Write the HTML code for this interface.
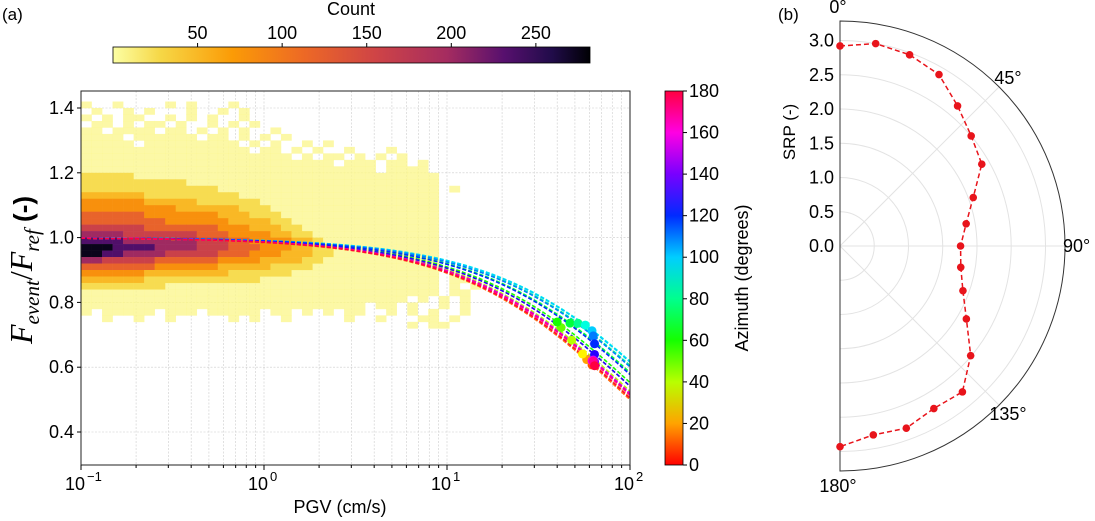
<!DOCTYPE html>
<html><head><meta charset="utf-8">
<style>
html,body{margin:0;padding:0;background:#fff;}
svg{display:block;font-family:"Liberation Sans","DejaVu Sans",sans-serif;}
</style></head>
<body>
<svg id="fig" width="1095" height="521" viewBox="0 0 1095 521" xmlns="http://www.w3.org/2000/svg">
<defs>
<linearGradient id="countGrad" x1="0" x2="1" y1="0" y2="0">
<stop offset="0" stop-color="#fcffa4"/><stop offset="0.1" stop-color="#f6d746"/>
<stop offset="0.25" stop-color="#fb9b06"/><stop offset="0.4" stop-color="#ed6925"/>
<stop offset="0.55" stop-color="#cf4446"/><stop offset="0.7" stop-color="#a52c60"/>
<stop offset="0.82" stop-color="#57106e"/><stop offset="0.92" stop-color="#210c4a"/>
<stop offset="1" stop-color="#000004"/>
</linearGradient>
<linearGradient id="azGrad" x1="0" x2="0" y1="1" y2="0"></linearGradient>
<clipPath id="plotClip"><rect x="81" y="91" width="549" height="374"/></clipPath>
</defs>
<g id="main"></g>
<g id="polar"></g>
</svg>
<script>
// ---- data: 2D histogram (rows top->bottom, y from 1.42 down in 0.02 steps; cols log10 PGV from -1 in 0.0575 steps)
const histRows = [
"1..1....1.1...1",
".1..1.1...1..1.1",
"1.1.11..1.1.1..1",
".11.1.11.1..1.1.1",
"11.1111.11.1.1.1..1",
"1111.111111.11.1.1.1",
"11111.111111111.1.1..1.1",
"1111111111111111.11.1.1..1...1",
"11111111111111111111.1.11.1.1.1",
"111111111111111111111111.111.11.1",
"1111111111111111111111111111.1111",
"2222211111111111111111111111111111",
"2222222222111111111111111111111111",
"2222222222222111111111111111111111.1",
"3333332222222221111111111111111111",
"4444443333322222211111111111111111",
"4444444443333332221111111111111111",
"5555554444444333222111111111111111",
"5555555544444433332211111111111111",
"6666665555555444333221111111111111",
"7777666666655544443322111111111111",
"8888777777766655444433211111111111",
"9998888777766655544433221111111111",
"9988777766666555444333221111111111",
"7766666555555444433332211111111111",
"5555555444444333332222111111111111",
"4444443333333322222211111111111111.1",
"3333332222222222211111111111111111.11",
"2222222211111111111111111111111111.1.1",
"1111111111111111111111111111111111.11",
"1111111111111111111111111111111.1.1.1",
"111111111111111111111111111.11.1..1.1",
"1.11111.111.11111.11.1.1.11..1.1.1..1",
"..1..1..1.....1.1..1.....1..1...11.1",
"...............................1.11"
];
const levelCounts = [0,6,25,50,80,120,160,200,235,275];
// ---- data: azimuth-dependent fits / SRP
const azimuths = [0,10,20,30,40,50,60,70,80,90,100,110,120,130,140,150,160,170,180];
const srpValues = [2.92,3.0,2.97,2.89,2.67,2.5,2.39,2.07,1.87,1.76,1.79,1.91,2.13,2.49,2.78,2.74,2.83,2.8,2.93];
const fitX0 = [103,100,101,104,112,120,126,145,160,170,168,157,141,120,108,109,106,107,102];
const eventPGV = [64,62,58,55,48,42,40,47,52,57,62,63,64,64,64,63,62,63,64];
const yTicks = [0.4,0.6,0.8,1.0,1.2,1.4];
const xTickExps = [-1,0,1,2];
const countTicks = [50,100,150,200,250];
const azTicks = [0,20,40,60,80,100,120,140,160,180];
const rTicks = [0.0,0.5,1.0,1.5,2.0,2.5,3.0];
const angleTicks = [0,45,90,135,180];

const NS="http://www.w3.org/2000/svg";
function mk(tag,attrs,parent,text){const e=document.createElementNS(NS,tag);for(const k in attrs)e.setAttribute(k,attrs[k]);if(text!==undefined)e.textContent=text;parent.appendChild(e);return e;}
const X0=81,X1=630,Y0=91,Y1=465;
const xs=v=>X0+(Math.log10(v)+1)/3*(X1-X0);
const ys=v=>237.6-(v-1.0)*324;
const cbX=v=>113+v/282*477;
const azY=v=>465-v/180*374;
const azColor=a=>`hsl(${a*345/180},100%,50%)`;
const inferno=[[0,[252,255,164]],[0.1,[246,215,70]],[0.25,[251,155,6]],[0.4,[237,105,37]],[0.55,[207,68,70]],[0.7,[165,44,96]],[0.82,[87,16,110]],[0.92,[33,12,74]],[1,[0,0,4]]];
function cmap(t){for(let i=1;i<inferno.length;i++){if(t<=inferno[i][0]){const a=inferno[i-1],b=inferno[i];const f=(t-a[0])/(b[0]-a[0]);const c=a[1].map((v,k)=>Math.round(v+(b[1][k]-v)*f));return `rgb(${c})`;}}return 'rgb(0,0,4)';}

const main=document.getElementById('main');
let t=mk('text',{x:2,y:20,'font-size':17},main,'(a)');

t=mk('text',{x:778,y:20,'font-size':17},main,'(b)');

const cb=mk('g',{},main);

mk('rect',{x:113,y:47,width:477,height:16,fill:'url(#countGrad)',stroke:'#000','stroke-width':0.8},cb);
t=mk('text',{x:351,y:15,'font-size':18,'text-anchor':'middle'},cb,'Count');

countTicks.forEach(v=>{mk('line',{x1:cbX(v),x2:cbX(v),y1:43,y2:47,stroke:'#000'},cb);
 const l=mk('text',{x:cbX(v),y:39,'font-size':18,'text-anchor':'middle'},cb,String(v));
 });
const grid=mk('g',{stroke:'#ccc','stroke-width':0.6,'stroke-dasharray':'2,1.5'},main);

for(let e=-1;e<2;e++)for(let m=1;m<10;m++){const x=xs(m*Math.pow(10,e));mk('line',{x1:x,x2:x,y1:Y0,y2:Y1},grid);}
yTicks.forEach(v=>mk('line',{x1:X0,x2:X1,y1:ys(v),y2:ys(v)},grid));
const hist=mk('g',{'clip-path':'url(#plotClip)'},main);

histRows.forEach((row,r)=>{const yt=1.42-0.02*r;for(let c=0;c<row.length;c++){const ch=row[c];if(ch==='.')continue;
 const cnt=levelCounts[+ch];const lx0=-1+0.0575*c;const xa=xs(Math.pow(10,lx0)),xb=xs(Math.pow(10,lx0+0.0575));
 const cell=mk('rect',{x:xa,y:ys(yt),width:xb-xa+0.3,height:ys(yt-0.02)-ys(yt)+0.3,fill:cmap(cnt/282),'fill-opacity':cnt<10?0.8:1},hist);
 }});
const curves=mk('g',{'clip-path':'url(#plotClip)'},main);

const fitF=(x,x0)=>1/(1+Math.pow(x/x0,0.91));
azimuths.forEach((a,i)=>{let d='';for(let k=0;k<=120;k++){const x=Math.pow(10,-1+3*k/120);d+=(k?'L':'M')+xs(x).toFixed(1)+','+ys(fitF(x,fitX0[i])).toFixed(1);}
 const p=mk('path',{d:d,fill:'none',stroke:azColor(a),'stroke-width':1.6,'stroke-dasharray':'4,2'},curves);
 });
azimuths.forEach((a,i)=>{const c=mk('circle',{cx:xs(eventPGV[i]),cy:ys(fitF(eventPGV[i],fitX0[i])),r:4.5,fill:azColor(a)},curves);
 });
mk('rect',{x:X0,y:Y0,width:X1-X0,height:Y1-Y0,fill:'none',stroke:'#222','stroke-width':1},main);
yTicks.forEach(v=>{mk('line',{x1:X0-4,x2:X0,y1:ys(v),y2:ys(v),stroke:'#000'},main);
 const l=mk('text',{x:X0-7,y:ys(v)+6,'font-size':18,'text-anchor':'end'},main,v.toFixed(1));
 });
xTickExps.forEach(e=>{const x=xs(Math.pow(10,e));mk('line',{x1:x,x2:x,y1:Y1,y2:Y1+5,stroke:'#000'},main);
 const l=mk('text',{x:x-6,y:490,'font-size':18,'text-anchor':'middle'},main,'10');
 
 mk('text',{x:x+6,y:481,'font-size':13,'text-anchor':'start'},main,e<0?'\u2212'+(-e):String(e));});
for(let e=-1;e<2;e++)for(let m=2;m<10;m++){const x=xs(m*Math.pow(10,e));mk('line',{x1:x,x2:x,y1:Y1,y2:Y1+3,stroke:'#000'},main);}
t=mk('text',{x:340,y:513,'font-size':18,'text-anchor':'middle'},main,'PGV (cm/s)');

t=mk('text',{transform:'translate(32,270) rotate(-90)','font-size':32,'text-anchor':'middle','font-family':'"Liberation Serif",serif'},main);

t.innerHTML='<tspan font-style="italic">F</tspan><tspan font-style="italic" font-size="21" dy="7">event</tspan><tspan dy="-7">/</tspan><tspan font-style="italic">F</tspan><tspan font-style="italic" font-size="21" dy="7">ref</tspan><tspan dy="-7" font-family="Liberation Sans,sans-serif" font-weight="bold" font-size="26"> (-)</tspan>';
const grad=document.getElementById('azGrad');
azTicks.forEach(a=>mk('stop',{offset:a/180,'stop-color':azColor(a)},grad));
const acb=mk('g',{},main);

mk('rect',{x:665,y:91,width:18,height:374,fill:'url(#azGrad)',stroke:'#000','stroke-width':0.8},acb);
azTicks.forEach(a=>{mk('line',{x1:683,x2:687,y1:azY(a),y2:azY(a),stroke:'#000'},acb);
 const l=mk('text',{x:689,y:azY(a)+6,'font-size':18},acb,String(a));
 });
t=mk('text',{transform:'translate(748,278) rotate(-90)','font-size':18,'text-anchor':'middle'},acb,'Azimuth (degrees)');


const polar=document.getElementById('polar');
const PCX=840,PCY=246,RS=68.5,RMAX=225;
const pxy=(deg,r)=>[PCX+r*Math.sin(deg*Math.PI/180),PCY-r*Math.cos(deg*Math.PI/180)];
const pg=mk('g',{stroke:'#e3e3e3','stroke-width':1,fill:'none'},polar);

rTicks.forEach(v=>{if(v<=0)return;const r=v*RS;mk('path',{d:`M${PCX},${PCY-r} A${r},${r} 0 0 1 ${PCX},${PCY+r}`},pg);});
[45,90,135].forEach(a=>{const p=pxy(a,RMAX);mk('line',{x1:PCX,y1:PCY,x2:p[0],y2:p[1]},pg);});
mk('path',{d:`M${PCX},${PCY-RMAX} A${RMAX},${RMAX} 0 0 1 ${PCX},${PCY+RMAX} Z`,fill:'none',stroke:'#333','stroke-width':1},polar);
rTicks.forEach(v=>{const l=mk('text',{x:PCX-6,y:PCY-v*RS+6,'font-size':18,'text-anchor':'end'},polar,v.toFixed(1));
 });
const angPos={0:[838,13,'middle'],45:[1008,84,'middle'],90:[1063,252,'start'],135:[1008,420,'middle'],180:[838,492,'middle']};
angleTicks.forEach(a=>{const p=angPos[a];
 const l=mk('text',{x:p[0],y:p[1],'font-size':18,'text-anchor':p[2]},polar,a+'\u00b0');
 });
t=mk('text',{transform:'translate(795,132) rotate(-90)','font-size':17,'text-anchor':'middle'},polar,'SRP (-)');

let pd='';azimuths.forEach((a,i)=>{const p=pxy(a,srpValues[i]*RS);pd+=(i?'L':'M')+p[0].toFixed(1)+','+p[1].toFixed(1);});
const sl=mk('path',{d:pd,fill:'none',stroke:'#e8141b','stroke-width':1.5,'stroke-dasharray':'5,3'},polar);

azimuths.forEach((a,i)=>{const p=pxy(a,srpValues[i]*RS);const c=mk('circle',{cx:p[0],cy:p[1],r:3.8,fill:'#e8141b'},polar);
 });
</script>
</body></html>
